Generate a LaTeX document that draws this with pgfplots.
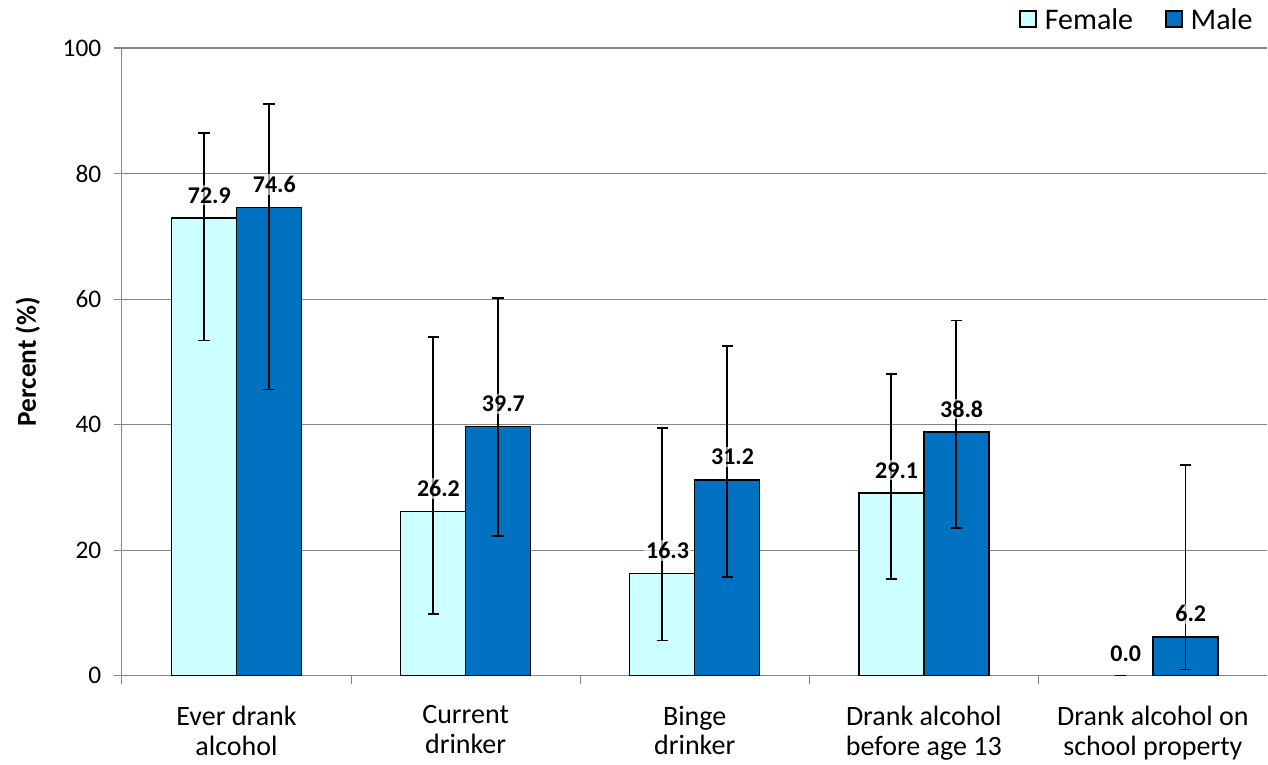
\documentclass[border=0pt]{standalone}
\usepackage{pgfplots}
\pgfplotsset{compat=1.18}
\usepackage{fontspec}
\setmainfont{Carlito}

\definecolor{female}{HTML}{CCFFFF}
\definecolor{male}{HTML}{0070C0}
\definecolor{gridgray}{HTML}{868686}

% x: category index, y: percent, ep/em: upper/lower error
\begin{document}
\begin{tikzpicture}
\begin{axis}[
    scale only axis,
    width=859.5pt, height=471pt,
    xmin=-0.5, xmax=4.5,
    ymin=0, ymax=100,
    ytick={0,20,40,60,80,100},
    xtick={-0.5,0.5,1.5,2.5,3.5},
    xticklabels={},
    extra x ticks={0,1,2,3,4},
    extra x tick labels={{Ever drank\\alcohol},{Current\\drinker},{Binge\\drinker},{Drank alcohol\\before age 13},{Drank alcohol on\\school property}},
    extra x tick style={major tick length=0pt, grid=none},
    x tick label style={align=center, font=\fontsize{21}{22.5}\selectfont, yshift=-19pt},
    tick align=outside,
    major tick length=6pt,
    tick style={draw=gridgray, line width=0.8pt},
    axis x line*=bottom,
    axis y line*=left,
    axis line style={draw=gridgray, line width=0.8pt, -},
    ymajorgrids,
    grid style={draw=gridgray, line width=0.8pt},
    ylabel={\bfseries Percent (\%)},
    ylabel style={at={(rel axis cs:0,0.5)}, anchor=south, yshift=58pt, font=\fontsize{20.5}{24}\selectfont},
    yticklabel style={font=\fontsize{19}{22}\selectfont, xshift=-6pt},
    /pgf/number format/assume math mode=true,
    ybar,
    bar width=0.2836,
    error bars/y dir=both,
    error bars/error bar style={black, line width=1.3pt},
    error bars/error mark options={black, line width=1.3pt, mark size=4.2pt, rotate=90},
    nodes near coords={\pgfmathprintnumber[fixed,fixed zerofill,precision=1]{\pgfplotspointmeta}},
    nodes near coords style={font=\fontsize{18}{21}\selectfont\bfseries, anchor=south, yshift=9pt, xshift=4pt, fill=white, fill opacity=0.6, text opacity=1, inner sep=1.5pt},
    legend style={at={(0.993,1.045)}, anchor=east, draw=none, fill=none, legend columns=2, font=\fontsize{22.5}{26}\selectfont,
        /tikz/every odd column/.append style={column sep=4pt},
        /tikz/every even column/.append style={column sep=22pt}},
    legend image code/.code={\draw[#1, draw=black, line width=1.2pt] (0pt,-5.5pt) rectangle (12pt,6.5pt);},
]
\addplot[fill=female, draw=black, line width=1.1pt, bar shift=-0.1418, error bars/y explicit]
    table[x=x, y=y, y error plus=ep, y error minus=em] {
x y ep em
0 72.9 13.5 19.5
1 26.2 27.8 16.4
2 16.3 23.2 10.7
3 29.1 19.0 13.7
};
\addplot[fill=male, draw=black, line width=1.1pt, bar shift=0.1418, error bars/y explicit]
    table[x=x, y=y, y error plus=ep, y error minus=em] {
x y ep em
0 74.6 16.5 29.0
1 39.7 20.5 17.4
2 31.2 21.3 15.5
3 38.8 17.8 15.3
4 6.2 27.4 5.2
};
% female value of zero: label only
\addplot[draw=gridgray, fill=none, bar shift=-0.1418, bar width=0.06, forget plot] coordinates {(4,0.0)};
\legend{Female, Male}
\end{axis}
\path (current axis.north west) ++(-91.5pt,36pt);
\path (current axis.south east) ++(0pt,-65pt);
\end{tikzpicture}
\end{document}
